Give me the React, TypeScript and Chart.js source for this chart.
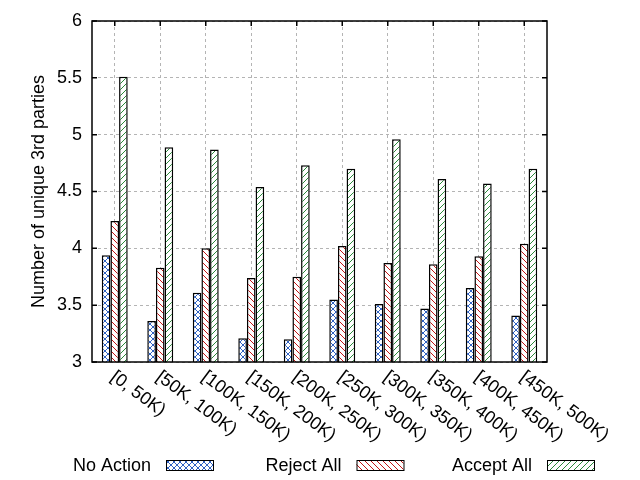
import React, { useEffect, useRef } from 'react';
import { Chart, registerables } from 'chart.js';
Chart.register(...registerables);

const categories = [
  '[0, 50K)',
  '[50K, 100K)',
  '[100K, 150K)',
  '[150K, 200K)',
  '[200K, 250K)',
  '[250K, 300K)',
  '[300K, 350K)',
  '[350K, 400K)',
  '[400K, 450K)',
  '[450K, 500K)',
];
const noAction = [3.94, 3.36, 3.61, 3.21, 3.2, 3.55, 3.51, 3.47, 3.65, 3.41];
const rejectAll = [4.24, 3.83, 4.0, 3.74, 3.75, 4.02, 3.87, 3.86, 3.93, 4.04];
const acceptAll = [5.51, 4.89, 4.87, 4.54, 4.73, 4.7, 4.96, 4.61, 4.57, 4.7];
const yTicks = [3, 3.5, 4, 4.5, 5, 5.5, 6];
const seriesNames = ['No Action', 'Reject All', 'Accept All'];

const FONT = '"Liberation Sans", Arial, sans-serif';

type Hatch = 'cross' | 'back' | 'fwd';

function makePattern(kind: Hatch, color: string): CanvasPattern | string {
  const s = 6;
  const c = document.createElement('canvas');
  c.width = s;
  c.height = s;
  const g = c.getContext('2d');
  if (!g) return '#fff';
  g.fillStyle = '#fff';
  g.fillRect(0, 0, s, s);
  g.strokeStyle = color;
  g.lineWidth = 1;
  g.beginPath();
  if (kind !== 'fwd') {
    g.moveTo(-1, -1);
    g.lineTo(s + 1, s + 1);
  }
  if (kind !== 'back') {
    g.moveTo(-1, s + 1);
    g.lineTo(s + 1, -1);
  }
  g.stroke();
  return g.createPattern(c, 'repeat') || '#fff';
}

export default function App(): React.ReactElement {
  const canvasRef = useRef<HTMLCanvasElement | null>(null);
  const chartRef = useRef<Chart | null>(null);

  useEffect(() => {
    if (!canvasRef.current) return;
    const ctx = canvasRef.current.getContext('2d');
    if (!ctx) return;
    if (chartRef.current) chartRef.current.destroy();

    const fills = [
      makePattern('cross', '#2f62c4'),
      makePattern('back', '#c41414'),
      makePattern('fwd', '#2a8a3a'),
    ];

    // frame, inward ticks, rotated category labels and the key under the plot
    const decorations = {
      id: 'decorations',
      afterDraw(chart: any) {
        const { ctx: c, chartArea: a, scales } = chart;
        const xs = scales.x;
        const ys = scales.y;
        c.save();
        c.strokeStyle = '#000';
        c.lineWidth = 1.5;
        c.strokeRect(a.left, a.top, a.right - a.left, a.bottom - a.top);
        c.beginPath();
        yTicks.forEach((v) => {
          const py = ys.getPixelForValue(v);
          c.moveTo(a.left, py);
          c.lineTo(a.left + 5, py);
          c.moveTo(a.right, py);
          c.lineTo(a.right - 5, py);
        });
        categories.forEach((_, i) => {
          const px = xs.getPixelForValue(i);
          c.moveTo(px, a.top);
          c.lineTo(px, a.top + 5);
        });
        c.stroke();

        c.font = `18px ${FONT}`;
        c.fillStyle = '#000';
        c.textAlign = 'left';
        c.textBaseline = 'middle';
        categories.forEach((label, i) => {
          c.save();
          c.translate(xs.getPixelForValue(i) - 2, a.bottom + 13);
          c.rotate(0.64);
          c.fillText(label, 0, 0);
          c.restore();
        });

        // key: text right aligned, then the sample box
        c.textAlign = 'right';
        c.textBaseline = 'alphabetic';
        c.lineWidth = 1;
        seriesNames.forEach((name, i) => {
          const bx = 166 + i * 190.5;
          c.fillStyle = '#000';
          c.fillText(name, bx - 15, 471);
          c.fillStyle = fills[i];
          c.fillRect(bx, 460, 47, 10);
          c.strokeRect(bx + 0.5, 460.5, 47, 10);
        });
        c.restore();
      },
    };

    chartRef.current = new Chart(ctx, {
      type: 'bar',
      data: {
        labels: categories,
        datasets: [noAction, rejectAll, acceptAll].map((vals, i) => ({
          label: seriesNames[i],
          data: vals,
          backgroundColor: fills[i] as any,
          borderColor: '#000',
          borderWidth: 1.5,
          barPercentage: 1,
          categoryPercentage: 0.57,
        })),
      },
      options: {
        responsive: false,
        animation: false,
        layout: { padding: { left: 0, right: 93, top: 21, bottom: 118 } },
        plugins: {
          legend: { display: false },
          tooltip: { enabled: false },
        },
        scales: {
          x: {
            ticks: { display: false },
            grid: {
              offset: false,
              drawTicks: false,
              color: '#b4b4b4',
              lineWidth: 1,
            },
            border: { display: false, dash: [3, 3] },
            afterFit: (scale: any) => {
              scale.height = 0;
            },
          },
          y: {
            min: 3,
            max: 6,
            ticks: {
              stepSize: 0.5,
              padding: 10,
              color: '#000',
              font: { family: FONT, size: 18 },
              callback: (v: any) => String(Number(v)),
            },
            grid: {
              drawTicks: false,
              color: '#b4b4b4',
              lineWidth: 1,
            },
            border: { display: false, dash: [3, 3] },
            title: {
              display: true,
              text: 'Number of unique 3rd parties',
              color: '#000',
              font: { family: FONT, size: 18 },
              padding: { top: 28, bottom: 0 },
            },
            afterFit: (scale: any) => {
              scale.width = 92;
            },
          },
        },
      },
      plugins: [decorations],
    });

    return () => {
      if (chartRef.current) {
        chartRef.current.destroy();
        chartRef.current = null;
      }
    };
  }, []);

  return (
    <div style={{ position: 'fixed', left: 0, top: 0, width: 640, height: 480, background: '#fff' }}>
      <canvas ref={canvasRef} width={640} height={480} />
    </div>
  );
}
